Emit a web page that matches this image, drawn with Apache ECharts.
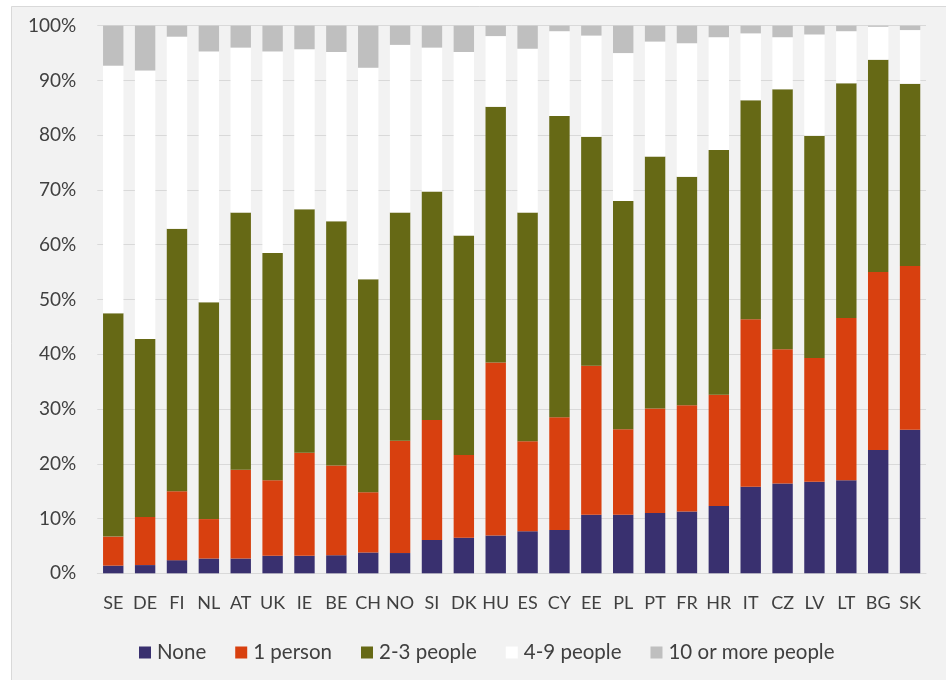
<!DOCTYPE html>
<html>
<head>
<meta charset="utf-8">
<script src="https://cdn.jsdelivr.net/npm/echarts@6/dist/echarts.min.js"></script>
<style>
html,body{margin:0;padding:0;background:#ffffff;}
#chart{width:946px;height:680px;}
</style>
</head>
<body>
<div id="chart"></div>
<script>
const categories = ['SE','DE','FI','NL','AT','UK','IE','BE','CH','NO','SI','DK','HU','ES','CY','EE','PL','PT','FR','HR','IT','CZ','LV','LT','BG','SK'];
const seriesNames = ['None','1 person','2-3 people','4-9 people','10 or more people'];
const noneVals   = [1.4,1.5,2.4,2.7,2.7,3.2,3.2,3.3,3.8,3.7,6.1,6.5,6.9,7.7,7.9,10.7,10.7,11.0,11.3,12.3,15.8,16.4,16.7,17.0,22.5,26.2];
const onePerson  = [5.3,8.8,12.6,7.2,16.2,13.8,18.8,16.4,11.0,20.5,21.9,15.1,31.6,16.4,20.6,27.2,15.6,19.1,19.4,20.3,30.6,24.5,22.6,29.6,32.5,29.9];
const twoThree   = [40.8,32.5,47.9,39.6,47.0,41.5,44.5,44.6,38.9,41.7,41.7,40.1,46.7,41.8,55.0,41.8,41.7,46.0,41.7,44.7,40.0,47.5,40.6,42.9,38.8,33.3];
const fourNine   = [45.2,49.0,35.1,45.8,30.1,36.8,29.2,30.9,38.6,30.6,26.3,33.5,12.9,29.9,15.5,18.5,27.0,21.0,24.4,20.6,12.2,9.5,18.5,9.5,6.0,9.8];
const tenPlus    = [7.3,8.2,2.0,4.7,4.0,4.7,4.3,4.8,7.7,3.5,4.0,4.8,1.9,4.2,1.0,1.8,5.0,2.9,3.2,2.1,1.4,2.1,1.6,1.0,0.2,0.8];
const yTicks = [0,10,20,30,40,50,60,70,80,90,100];

const colors = ['#39306f','#d8400f','#666915','#ffffff','#bfbfbf'];
const dataSets = [noneVals, onePerson, twoThree, fourNine, tenPlus];
const FONT = 'Lato';

const chart = echarts.init(document.getElementById('chart'), null, {renderer:'canvas'});
chart.setOption({
  animation:false,
  backgroundColor:'#ffffff',
  graphic:[{
    type:'rect', z:-100, silent:true,
    shape:{x:11.5,y:6.5,width:950,height:690},
    style:{fill:'#f2f2f2', stroke:'#d9d9d9', lineWidth:1}
  }],
  grid:{left:97.3, right:20, top:25.7, bottom:106.7, containLabel:false},
  legend:{
    bottom:12, left:134,
    icon:'rect', itemWidth:12, itemHeight:12, itemGap:29,
    textStyle:{fontFamily:FONT, fontSize:20.5, color:'#404040', padding:[0,0,0,1]},
    data:seriesNames.map((n,i)=>({name:n, itemStyle:{color:colors[i]}}))
  },
  xAxis:{
    type:'category', data:categories,
    axisLine:{show:true, lineStyle:{color:'#d9d9d9', width:1}},
    axisTick:{show:false},
    axisLabel:{fontFamily:FONT, fontSize:18, color:'#404040', margin:21, interval:0}
  },
  yAxis:{
    type:'value', min:0, max:100, interval:10,
    axisLine:{show:false}, axisTick:{show:false},
    axisLabel:{fontFamily:FONT, fontSize:19, color:'#404040', margin:21,
      formatter:v=>yTicks.includes(v)? v+'%' : ''},
    splitLine:{lineStyle:{color:'#d9d9d9', width:1}}
  },
  series: dataSets.map((d,i)=>({
    name:seriesNames[i], type:'bar', stack:'total',
    barCategoryGap:'36%',
    itemStyle:{color:colors[i]},
    data:d
  }))
});
</script>
</body>
</html>
